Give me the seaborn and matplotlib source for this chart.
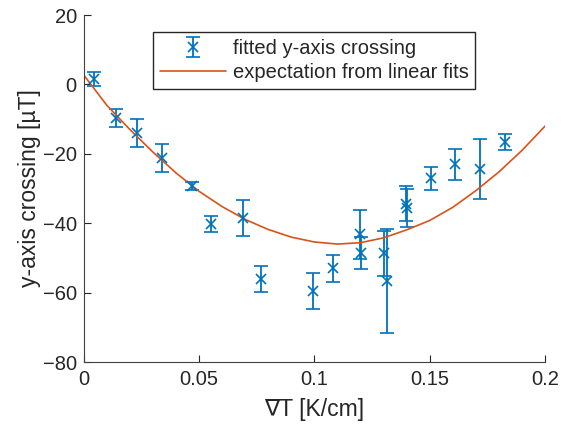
import numpy as np
import pandas as pd
import matplotlib
matplotlib.use("Agg")
import matplotlib.pyplot as plt
import seaborn as sns

grad_T = [0.0043, 0.0139, 0.0230, 0.0338, 0.0469, 0.0551, 0.0690, 0.0768, 0.0993, 0.1080,
          0.1197, 0.1200, 0.1300, 0.1314, 0.1395, 0.1400, 0.1505, 0.1610, 0.1718, 0.1826]
crossing = [1.6, -9.7, -14.0, -21.2, -29.3, -40.2, -38.6, -56.0, -59.4, -53.0,
            -43.2, -48.6, -48.6, -56.6, -34.4, -35.6, -27.0, -23.0, -24.4, -16.6]
crossing_err = [2.0, 2.5, 4.0, 4.0, 1.2, 2.2, 5.2, 3.7, 5.2, 3.9,
                7.0, 4.6, 6.5, 15.0, 5.0, 5.5, 3.3, 4.5, 8.6, 2.3]

# Expectation from linear fits
fit_T = [0.00, 0.01, 0.02, 0.03, 0.04, 0.05, 0.06, 0.07, 0.08, 0.09, 0.10,
         0.11, 0.12, 0.13, 0.14, 0.15, 0.16, 0.17, 0.18, 0.19, 0.20]
fit_crossing = [2.7, -6.0, -13.0, -19.5, -25.5, -30.8, -35.2, -38.9, -41.8, -44.0, -45.4,
                -46.0, -45.6, -44.2, -41.9, -39.2, -35.4, -30.6, -25.2, -19.0, -12.0]

sns.set_style("ticks")
plt.rcParams["font.family"] = ["Liberation Sans", "DejaVu Sans"]

blue = "#0072BD"
orange = "#D95319"
axcol = "#262626"

fig = plt.figure(figsize=(5.66, 4.30), dpi=100)
ax = fig.add_axes([0.148, 0.158, 0.815, 0.807])

ax.errorbar(grad_T, crossing, yerr=crossing_err, fmt="x", color=blue,
            markersize=7.5, markeredgewidth=1.2, elinewidth=1.3,
            capsize=5.2, capthick=1.3, label="fitted y-axis crossing")

fit_df = pd.DataFrame({"T": fit_T, "y": fit_crossing})
sns.lineplot(data=fit_df, x="T", y="y", color=orange, linewidth=1.2,
             label="expectation from linear fits", ax=ax)

ax.set_xlim(0, 0.2)
ax.set_ylim(-80, 20)
ax.set_xticks([0, 0.05, 0.1, 0.15, 0.2])
ax.set_xticklabels(["0", "0.05", "0.1", "0.15", "0.2"])
ax.set_yticks([-80, -60, -40, -20, 0, 20])
ax.set_xlabel("∇T [K/cm]", fontsize=16.5, color=axcol, labelpad=6)
ax.set_ylabel("y-axis crossing [µT]", fontsize=16.5, color=axcol, labelpad=1)
ax.tick_params(direction="in", length=5, labelsize=14.5, colors=axcol)
ax.tick_params(axis="x", pad=6)
ax.tick_params(axis="y", pad=5)
sns.despine(ax=ax)
for s in ["left", "bottom"]:
    ax.spines[s].set_color("#404040")

handles, labels = ax.get_legend_handles_labels()
order = [labels.index("fitted y-axis crossing"), labels.index("expectation from linear fits")]
leg = ax.legend([handles[i] for i in order], [labels[i] for i in order],
                loc="upper left", bbox_to_anchor=(0.15, 0.951), fontsize=14.5,
                frameon=True, fancybox=False, edgecolor=axcol, framealpha=1,
                handlelength=3.3, handletextpad=0.3, borderpad=0.35,
                labelspacing=0.25, borderaxespad=0)
leg.get_frame().set_linewidth(1.0)

fig.savefig("out.png", dpi=100)
